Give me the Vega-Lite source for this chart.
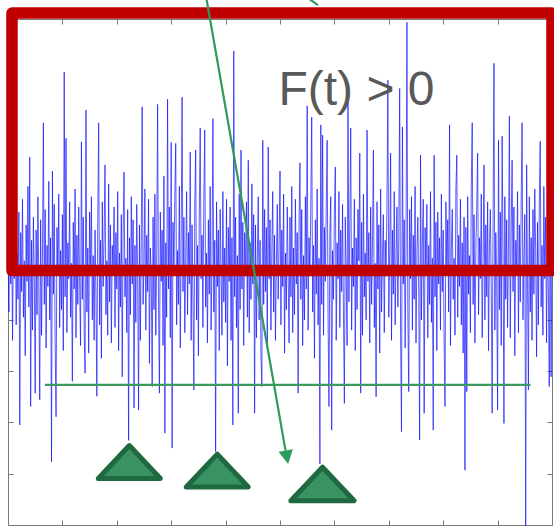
{
"$schema":"https://vega.github.io/schema/vega-lite/v6.json",
"width":544,"height":506,
"padding":{"left":8,"top":19,"right":2,"bottom":1},
"autosize":{"type":"none"},
"background":"white",
"config":{"view":{"stroke":"#7a7a7a","strokeWidth":1},"axis":{"labels":false,"domain":false,"grid":false,"title":null,"tickColor":"#7a7a7a","tickSize":-5,"tickWidth":1}},
"resolve":{"axis":{"x":"independent","y":"independent"}},
"encoding":{
"x":{"field":"x","type":"quantitative","scale":{"domain":[0,600],"nice":false,"zero":false},"axis":null},
"y":{"field":"y","type":"quantitative","scale":{"domain":[-500,486.4],"nice":false,"zero":false},"axis":null}
},
"layer":[
{"data":{"values":[
{"x":0,"y":40},{"x":1,"y":-85},{"x":2,"y":120},{"x":3,"y":-30},{"x":4,"y":65},{"x":5,"y":-140},{"x":6,"y":90},{"x":7,"y":-20},{"x":8,"y":150},{"x":9,"y":-110},
{"x":10,"y":30},{"x":11,"y":-60},{"x":12,"y":110},{"x":13,"y":-305},{"x":14,"y":70},{"x":15,"y":-45},{"x":16,"y":135},{"x":17,"y":-95},{"x":18,"y":15},{"x":19,"y":-170},
{"x":20,"y":85},{"x":21,"y":-25},{"x":22,"y":160},{"x":23,"y":-75},{"x":24,"y":217},{"x":25,"y":-269},{"x":26,"y":55},{"x":27,"y":-120},{"x":28,"y":100},{"x":29,"y":-15},
{"x":30,"y":-243},{"x":31,"y":75},{"x":32,"y":-90},{"x":33,"y":140},{"x":34,"y":-40},{"x":35,"y":-256},{"x":36,"y":95},{"x":37,"y":-130},{"x":38,"y":20},{"x":39,"y":284},
{"x":40,"y":-70},{"x":41,"y":115},{"x":42,"y":-155},{"x":43,"y":45},{"x":44,"y":-35},{"x":45,"y":170},{"x":46,"y":-100},{"x":47,"y":60},{"x":48,"y":-377},{"x":49,"y":190},
{"x":50,"y":-50},{"x":51,"y":125},{"x":52,"y":-145},{"x":53,"y":-289},{"x":54,"y":80},{"x":55,"y":-10},{"x":56,"y":145},{"x":57,"y":-115},{"x":58,"y":35},{"x":59,"y":-80},
{"x":60,"y":105},{"x":61,"y":-160},{"x":62,"y":383},{"x":63,"y":-55},{"x":64,"y":254},{"x":65,"y":-125},{"x":66,"y":50},{"x":67,"y":-20},{"x":68,"y":130},{"x":69,"y":-95},
{"x":70,"y":10},{"x":71,"y":-220},{"x":72,"y":90},{"x":73,"y":-40},{"x":74,"y":155},{"x":75,"y":-135},{"x":76,"y":65},{"x":77,"y":-70},{"x":78,"y":120},{"x":79,"y":-30},
{"x":80,"y":-150},{"x":81,"y":247},{"x":82,"y":-60},{"x":83,"y":100},{"x":84,"y":-120},{"x":85,"y":-204},{"x":86,"y":309},{"x":87,"y":-85},{"x":88,"y":40},{"x":89,"y":-165},
{"x":90,"y":110},{"x":91,"y":-15},{"x":92,"y":140},{"x":93,"y":-100},{"x":94,"y":25},{"x":95,"y":-140},{"x":96,"y":75},{"x":97,"y":-50},{"x":98,"y":-249},{"x":99,"y":95},
{"x":100,"y":284},{"x":101,"y":-110},{"x":102,"y":55},{"x":103,"y":-175},{"x":104,"y":130},{"x":105,"y":-35},{"x":106,"y":60},{"x":107,"y":202},{"x":108,"y":-90},{"x":109,"y":15},
{"x":110,"y":-130},{"x":111,"y":165},{"x":112,"y":-65},{"x":113,"y":85},{"x":114,"y":-145},{"x":115,"y":45},{"x":116,"y":-5},{"x":117,"y":120},{"x":118,"y":-115},{"x":119,"y":70},
{"x":120,"y":-40},{"x":121,"y":150},{"x":122,"y":-160},{"x":123,"y":30},{"x":124,"y":-75},{"x":125,"y":105},{"x":126,"y":-211},{"x":127,"y":80},{"x":128,"y":188},{"x":129,"y":-55},
{"x":130,"y":20},{"x":131,"y":-125},{"x":132,"y":115},{"x":133,"y":-335},{"x":134,"y":60},{"x":135,"y":-90},{"x":136,"y":140},{"x":137,"y":-30},{"x":138,"y":95},{"x":139,"y":-272},
{"x":140,"y":45},{"x":141,"y":-105},{"x":142,"y":125},{"x":143,"y":-20},{"x":144,"y":-276},{"x":145,"y":85},{"x":146,"y":-140},{"x":147,"y":55},{"x":148,"y":315},{"x":149,"y":-70},
{"x":150,"y":10},{"x":151,"y":155},{"x":152,"y":-120},{"x":153,"y":65},{"x":154,"y":-45},{"x":155,"y":135},{"x":156,"y":-185},{"x":157,"y":40},{"x":158,"y":-15},{"x":159,"y":-230},
{"x":160,"y":100},{"x":161,"y":-80},{"x":162,"y":145},{"x":163,"y":-130},{"x":164,"y":30},{"x":165,"y":320},{"x":166,"y":-60},{"x":167,"y":-243},{"x":168,"y":110},{"x":169,"y":-25},
{"x":170,"y":75},{"x":171,"y":-150},{"x":172,"y":180},{"x":173,"y":-321},{"x":174,"y":50},{"x":175,"y":-95},{"x":176,"y":330},{"x":177,"y":-40},{"x":178,"y":120},{"x":179,"y":-135},
{"x":180,"y":246},{"x":181,"y":-350},{"x":182,"y":90},{"x":183,"y":-10},{"x":184,"y":140},{"x":185,"y":244},{"x":186,"y":-110},{"x":187,"y":35},{"x":188,"y":-70},{"x":189,"y":160},
{"x":190,"y":-155},{"x":191,"y":60},{"x":192,"y":334},{"x":193,"y":-45},{"x":194,"y":100},{"x":195,"y":-125},{"x":196,"y":20},{"x":197,"y":150},{"x":198,"y":-90},{"x":199,"y":70},
{"x":200,"y":-30},{"x":201,"y":227},{"x":202,"y":-140},{"x":203,"y":85},{"x":204,"y":-60},{"x":205,"y":-237},{"x":206,"y":125},{"x":207,"y":231},{"x":208,"y":-100},{"x":209,"y":45},
{"x":210,"y":-170},{"x":211,"y":110},{"x":212,"y":274},{"x":213,"y":-20},{"x":214,"y":65},{"x":215,"y":-115},{"x":216,"y":140},{"x":217,"y":270},{"x":218,"y":-75},{"x":219,"y":30},
{"x":220,"y":-145},{"x":221,"y":95},{"x":222,"y":-50},{"x":223,"y":160},{"x":224,"y":-120},{"x":225,"y":10},{"x":226,"y":292},{"x":227,"y":-85},{"x":228,"y":55},{"x":229,"y":-357},
{"x":230,"y":130},{"x":231,"y":-35},{"x":232,"y":75},{"x":233,"y":-160},{"x":234,"y":115},{"x":235,"y":-5},{"x":236,"y":-130},{"x":237,"y":150},{"x":238,"y":-65},{"x":239,"y":40},
{"x":240,"y":-105},{"x":241,"y":135},{"x":242,"y":-190},{"x":243,"y":80},{"x":244,"y":-25},{"x":245,"y":120},{"x":246,"y":-140},{"x":247,"y":60},{"x":248,"y":-305},{"x":249,"y":424},
{"x":250,"y":-55},{"x":251,"y":100},{"x":252,"y":-115},{"x":253,"y":25},{"x":254,"y":-282},{"x":255,"y":145},{"x":256,"y":-80},{"x":257,"y":231},{"x":258,"y":-40},{"x":259,"y":90},
{"x":260,"y":-150},{"x":261,"y":70},{"x":262,"y":-15},{"x":263,"y":130},{"x":264,"y":-95},{"x":265,"y":211},{"x":266,"y":-125},{"x":267,"y":50},{"x":268,"y":-60},{"x":269,"y":165},
{"x":270,"y":-30},{"x":271,"y":105},{"x":272,"y":-282},{"x":273,"y":85},{"x":274,"y":-135},{"x":275,"y":20},{"x":276,"y":140},{"x":277,"y":-100},{"x":278,"y":55},{"x":279,"y":-170},
{"x":280,"y":-230},{"x":281,"y":250},{"x":282,"y":-70},{"x":283,"y":115},{"x":284,"y":-45},{"x":285,"y":80},{"x":286,"y":-155},{"x":287,"y":237},{"x":288,"y":-20},{"x":289,"y":95},
{"x":290,"y":-120},{"x":291,"y":35},{"x":292,"y":150},{"x":293,"y":-85},{"x":294,"y":65},{"x":295,"y":-140},{"x":296,"y":10},{"x":297,"y":125},{"x":298,"y":-60},{"x":299,"y":45},
{"x":300,"y":190},{"x":301,"y":-110},{"x":302,"y":75},{"x":303,"y":-35},{"x":304,"y":145},{"x":305,"y":-165},{"x":306,"y":30},{"x":307,"y":-80},{"x":308,"y":120},{"x":309,"y":-10},
{"x":310,"y":-145},{"x":311,"y":100},{"x":312,"y":-55},{"x":313,"y":160},{"x":314,"y":-125},{"x":315,"y":40},{"x":316,"y":-90},{"x":317,"y":135},{"x":318,"y":-30},{"x":319,"y":70},
{"x":320,"y":-243},{"x":321,"y":85},{"x":322,"y":206},{"x":323,"y":-60},{"x":324,"y":115},{"x":325,"y":-150},{"x":326,"y":25},{"x":327,"y":-100},{"x":328,"y":140},{"x":329,"y":-40},
{"x":330,"y":317},{"x":331,"y":-120},{"x":332,"y":60},{"x":333,"y":-15},{"x":334,"y":130},{"x":335,"y":295},{"x":336,"y":-85},{"x":337,"y":45},{"x":338,"y":-175},{"x":339,"y":95},
{"x":340,"y":-50},{"x":341,"y":155},{"x":342,"y":-110},{"x":343,"y":20},{"x":344,"y":-381},{"x":345,"y":280},{"x":346,"y":-70},{"x":347,"y":260},{"x":348,"y":-130},{"x":349,"y":80},
{"x":350,"y":-25},{"x":351,"y":120},{"x":352,"y":250},{"x":353,"y":-95},{"x":354,"y":-269},{"x":355,"y":65},{"x":356,"y":140},{"x":357,"y":-315},{"x":358,"y":35},{"x":359,"y":-60},
{"x":360,"y":110},{"x":361,"y":198},{"x":362,"y":-140},{"x":363,"y":50},{"x":364,"y":-20},{"x":365,"y":150},{"x":366,"y":-115},{"x":367,"y":75},{"x":368,"y":-45},{"x":369,"y":125},
{"x":370,"y":-90},{"x":371,"y":-263},{"x":372,"y":100},{"x":373,"y":-5},{"x":374,"y":-150},{"x":375,"y":328},{"x":376,"y":-65},{"x":377,"y":85},{"x":378,"y":274},{"x":379,"y":-120},
{"x":380,"y":40},{"x":381,"y":-35},{"x":382,"y":135},{"x":383,"y":-160},{"x":384,"y":60},{"x":385,"y":-80},{"x":386,"y":115},{"x":387,"y":15},{"x":388,"y":225},{"x":389,"y":-243},
{"x":390,"y":90},{"x":391,"y":-130},{"x":392,"y":145},{"x":393,"y":-55},{"x":394,"y":30},{"x":395,"y":-100},{"x":396,"y":270},{"x":397,"y":-25},{"x":398,"y":70},{"x":399,"y":-145},
{"x":400,"y":120},{"x":401,"y":-70},{"x":402,"y":45},{"x":403,"y":231},{"x":404,"y":-115},{"x":405,"y":10},{"x":406,"y":-250},{"x":407,"y":130},{"x":408,"y":-40},{"x":409,"y":85},
{"x":410,"y":-165},{"x":411,"y":155},{"x":412,"y":-85},{"x":413,"y":20},{"x":414,"y":105},{"x":415,"y":-125},{"x":416,"y":55},{"x":417,"y":-15},{"x":418,"y":140},{"x":419,"y":367},
{"x":420,"y":-95},{"x":421,"y":35},{"x":422,"y":225},{"x":423,"y":-140},{"x":424,"y":75},{"x":425,"y":-50},{"x":426,"y":150},{"x":427,"y":-110},{"x":428,"y":25},{"x":429,"y":120},
{"x":430,"y":-75},{"x":431,"y":60},{"x":432,"y":351},{"x":433,"y":-130},{"x":434,"y":-318},{"x":435,"y":276},{"x":436,"y":-30},{"x":437,"y":95},{"x":438,"y":-155},{"x":439,"y":40},
{"x":440,"y":480},{"x":441,"y":-85},{"x":442,"y":-240},{"x":443,"y":115},{"x":444,"y":-20},{"x":445,"y":140},{"x":446,"y":-120},{"x":447,"y":65},{"x":448,"y":-60},{"x":449,"y":160},
{"x":450,"y":-145},{"x":451,"y":30},{"x":452,"y":100},{"x":453,"y":-40},{"x":454,"y":-334},{"x":455,"y":221},{"x":456,"y":-100},{"x":457,"y":50},{"x":458,"y":135},{"x":459,"y":-282},
{"x":460,"y":80},{"x":461,"y":-15},{"x":462,"y":125},{"x":463,"y":-135},{"x":464,"y":45},{"x":465,"y":-70},{"x":466,"y":150},{"x":467,"y":-105},{"x":468,"y":20},{"x":469,"y":-315},
{"x":470,"y":221},{"x":471,"y":-55},{"x":472,"y":90},{"x":473,"y":-160},{"x":474,"y":110},{"x":475,"y":-30},{"x":476,"y":60},{"x":477,"y":-120},{"x":478,"y":145},{"x":479,"y":-45},
{"x":480,"y":75},{"x":481,"y":-140},{"x":482,"y":-269},{"x":483,"y":130},{"x":484,"y":-10},{"x":485,"y":95},{"x":486,"y":-85},{"x":487,"y":280},{"x":488,"y":-150},{"x":489,"y":40},
{"x":490,"y":115},{"x":491,"y":-60},{"x":492,"y":20},{"x":493,"y":-130},{"x":494,"y":155},{"x":495,"y":221},{"x":496,"y":-95},{"x":497,"y":65},{"x":498,"y":-35},{"x":499,"y":135},
{"x":500,"y":-110},{"x":501,"y":50},{"x":502,"y":-165},{"x":503,"y":100},{"x":504,"y":-393},{"x":505,"y":80},{"x":506,"y":-240},{"x":507,"y":140},{"x":508,"y":-50},{"x":509,"y":25},
{"x":510,"y":-125},{"x":511,"y":160},{"x":512,"y":284},{"x":513,"y":-70},{"x":514,"y":105},{"x":515,"y":-145},{"x":516,"y":35},{"x":517,"y":120},{"x":518,"y":225},{"x":519,"y":-90},
{"x":520,"y":60},{"x":521,"y":-20},{"x":522,"y":145},{"x":523,"y":-135},{"x":524,"y":10},{"x":525,"y":202},{"x":526,"y":-100},{"x":527,"y":85},{"x":528,"y":-55},{"x":529,"y":130},
{"x":530,"y":-160},{"x":531,"y":45},{"x":532,"y":115},{"x":533,"y":-40},{"x":534,"y":-282},{"x":535,"y":90},{"x":536,"y":400},{"x":537,"y":-120},{"x":538,"y":70},{"x":539,"y":-25},
{"x":540,"y":-276},{"x":541,"y":250},{"x":542,"y":-80},{"x":543,"y":110},{"x":544,"y":-150},{"x":545,"y":258},{"x":546,"y":30},{"x":547,"y":-302},{"x":548,"y":140},{"x":549,"y":-60},
{"x":550,"y":95},{"x":551,"y":-115},{"x":552,"y":40},{"x":553,"y":297},{"x":554,"y":-135},{"x":555,"y":75},{"x":556,"y":211},{"x":557,"y":-45},{"x":558,"y":120},{"x":559,"y":-170},
{"x":560,"y":55},{"x":561,"y":-10},{"x":562,"y":150},{"x":563,"y":-125},{"x":564,"y":85},{"x":565,"y":-65},{"x":566,"y":130},{"x":567,"y":284},{"x":568,"y":-100},{"x":569,"y":20},
{"x":570,"y":105},{"x":571,"y":-510},{"x":572,"y":202},{"x":573,"y":-30},{"x":574,"y":-237},{"x":575,"y":140},{"x":576,"y":-85},{"x":577,"y":60},{"x":578,"y":-140},{"x":579,"y":115},
{"x":580,"y":-50},{"x":581,"y":155},{"x":582,"y":35},{"x":583,"y":-172},{"x":584,"y":90},{"x":585,"y":-110},{"x":586,"y":125},{"x":587,"y":248},{"x":588,"y":-75},{"x":589,"y":45},
{"x":590,"y":-130},{"x":591,"y":160},{"x":592,"y":-20},{"x":593,"y":100},{"x":594,"y":-145},{"x":595,"y":70},{"x":596,"y":-40},{"x":597,"y":-230},{"x":598,"y":135},{"x":599,"y":-211},
{"x":600,"y":60}
]},
"mark":{"type":"line","color":"#1010ff","strokeWidth":1,"opacity":0.68},
"encoding":{
"x":{"field":"x","type":"quantitative","scale":{"domain":[0,600],"nice":false,"zero":false},"axis":{"orient":"bottom","values":[0,60,120,180,240,300,360,420,480,540,600]}},
"y":{"field":"y","type":"quantitative","scale":{"domain":[-500,486.4],"nice":false,"zero":false},"axis":{"orient":"left","values":[-500,-400,-300,-200,-100,0,100,200,300,400]}}
}},
{"data":{"values":[{"x":4.4,"y":498,"x2":600,"y2":-4}]},
"mark":{"type":"rect","filled":false,"color":"#c00000","strokeWidth":11.5,"strokeJoin":"round","opacity":1},
"encoding":{
"x":{"field":"x","type":"quantitative","scale":{"domain":[0,600],"nice":false,"zero":false},"axis":{"orient":"top","values":[0,60,120,180,240,300,360,420,480,540,600]}},
"y":{"field":"y","type":"quantitative","scale":{"domain":[-500,486.4],"nice":false,"zero":false},"axis":{"orient":"right","values":[-500,-400,-300,-200,-100,0,100,200,300,400]}},
"x2":{"field":"x2"},"y2":{"field":"y2"}
}},
{"data":{"values":[{"x":40.8,"x2":576.3,"y":-227}]},
"mark":{"type":"rule","color":"#3c9a5f","strokeWidth":2.2},
"encoding":{"x2":{"field":"x2"}}},
{"data":{"values":[{"x":218.2,"y":533,"x2":306.1,"y2":-355},{"x":330.9,"y":527,"x2":341.9,"y2":513.6}]},
"mark":{"type":"rule","color":"#2e9a5f","strokeWidth":2.2},
"encoding":{"x2":{"field":"x2"},"y2":{"field":"y2"}}},
{"data":{"values":[{"x":307.6,"y":-368}]},
"mark":{"type":"point","shape":"M-0.53,-0.5L0.53,-0.5L0,0.5Z","size":762,"angle":-10.5,"filled":true,"color":"#2e9a5f","opacity":1}},
{"data":{"values":[{"x":133.8,"y":-377.2},{"x":230.8,"y":-393.8}]},
"mark":{"type":"point","shape":"M0,-0.53L1,0.53L-1,0.53Z","size":3844,"filled":true,"fill":"#389261","stroke":"#20693e","strokeWidth":5,"strokeJoin":"round","opacity":1,"fillOpacity":1,"strokeOpacity":1}},
{"data":{"values":[{"x":346.9,"y":-420}]},
"mark":{"type":"point","shape":"M0,-0.53L1,0.53L-1,0.53Z","size":4007,"filled":true,"fill":"#389261","stroke":"#20693e","strokeWidth":5,"strokeJoin":"round","opacity":1,"fillOpacity":1,"strokeOpacity":1}},
{"data":{"values":[{"x":298.3,"y":318.7,"label":"F(t) > 0"}]},
"mark":{"type":"text","align":"left","baseline":"alphabetic","font":"Liberation Sans","fontSize":48,"color":"#595959"},
"encoding":{"text":{"field":"label"}}}
]
}
